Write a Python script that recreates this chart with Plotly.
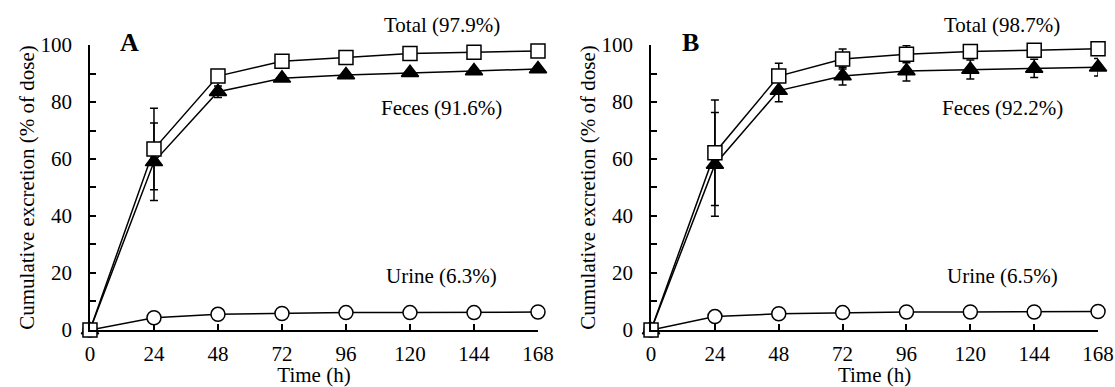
import plotly.graph_objects as go

time_h = [0, 24, 48, 72, 96, 120, 144, 168]

# Panel A
total_a = [0, 63.5, 89.1, 94.3, 95.6, 97.0, 97.5, 97.9]
total_a_err = [0, 14.3, 1.5, 1.0, 1.0, 1.0, 1.0, 1.0]
feces_a = [0, 59.0, 83.6, 88.3, 89.5, 90.3, 90.9, 91.6]
feces_a_err = [0, 13.6, 2.0, 1.0, 1.0, 1.0, 1.0, 1.0]
urine_a = [0, 4.3, 5.5, 5.8, 6.1, 6.1, 6.1, 6.3]
urine_a_err = [0, 0.8, 0.8, 0.8, 0.8, 0.8, 0.8, 0.8]

# Panel B
total_b = [0, 62.2, 89.1, 95.1, 96.8, 97.7, 98.2, 98.7]
total_b_err = [0, 18.5, 4.5, 3.5, 3.0, 2.0, 2.0, 1.5]
feces_b = [0, 58.1, 84.0, 89.1, 90.9, 91.4, 91.8, 92.2]
feces_b_err = [0, 18.2, 3.9, 3.1, 3.5, 3.3, 3.2, 3.1]
urine_b = [0, 4.7, 5.7, 6.1, 6.3, 6.3, 6.3, 6.5]
urine_b_err = [0, 1.0, 0.8, 0.8, 0.8, 0.8, 0.8, 0.8]

labels_a = ["Total (97.9%)", "Feces (91.6%)", "Urine (6.3%)"]
labels_b = ["Total (98.7%)", "Feces (92.2%)", "Urine (6.5%)"]
panel_letters = ["A", "B"]

FONT = "Liberation Serif, Times New Roman, serif"

fig = go.Figure()


def add_series(xa, ya, y, err, symbol, fill, size):
    fig.add_trace(go.Scatter(
        x=time_h, y=y, xaxis=xa, yaxis=ya, mode="lines+markers",
        line=dict(color="black", width=1.5),
        marker=dict(symbol=symbol, size=size, color=fill,
                    line=dict(color="black", width=1.5)),
        error_y=dict(type="data", array=err, visible=True, color="black",
                     thickness=1.5, width=4),
        cliponaxis=False, showlegend=False,
    ))


for xa, ya, tot, te, fec, fe, uri, ue in [
    ("x", "y", total_a, total_a_err, feces_a, feces_a_err, urine_a, urine_a_err),
    ("x2", "y2", total_b, total_b_err, feces_b, feces_b_err, urine_b, urine_b_err),
]:
    add_series(xa, ya, uri, ue, "circle", "white", 14)
    add_series(xa, ya, fec, fe, "triangle-up", "black", 15)
    add_series(xa, ya, tot, te, "square", "white", 14)

xaxis_common = dict(
    range=[0, 168], tickvals=time_h, ticks="inside", ticklen=6, tickwidth=1.5,
    tickcolor="black", showline=True, linecolor="black", linewidth=1.5,
    showgrid=False, zeroline=False, tickfont=dict(family=FONT, size=21, color="black"),
    title=dict(text="Time (h)", font=dict(family=FONT, size=21, color="black"), standoff=0),
    automargin=False, ticklabelstandoff=4,
)
yaxis_common = dict(
    range=[0, 100], tickvals=[0, 20, 40, 60, 80, 100], ticks="inside", ticklen=6,
    tickwidth=1.5, tickcolor="black", showline=True, linecolor="black", linewidth=1.5,
    showgrid=False, zeroline=False, tickfont=dict(family=FONT, size=21, color="black"),
    minor=dict(dtick=10, ticks="inside", ticklen=6, tickwidth=1.5, tickcolor="black", showgrid=False),
    title=dict(text="Cumulative excretion (% of dose)", font=dict(family=FONT, size=21, color="black"), standoff=0),
    automargin=False, ticklabelstandoff=12,
    domain=[0.1473, 0.8837],
)

fig.update_layout(
    width=1115, height=387, margin=dict(l=0, r=0, t=0, b=0),
    paper_bgcolor="white", plot_bgcolor="white",
    xaxis=dict(xaxis_common, domain=[0.0807, 0.4825], anchor="y"),
    yaxis=dict(yaxis_common, anchor="x"),
    xaxis2=dict(xaxis_common, domain=[0.5839, 0.9848], anchor="y2"),
    yaxis2=dict(yaxis_common, anchor="x2"),
)

annotations = []
for xr, yr, labels, letter in [("x", "y domain", labels_a, panel_letters[0]),
                               ("x2", "y2 domain", labels_b, panel_letters[1])]:
    for lab, ypos in zip(labels, [1.07, 0.78, 0.19]):
        annotations.append(dict(text=lab, x=132, y=ypos, xref=xr, yref=yr, showarrow=False,
                                xanchor="center", yanchor="middle",
                                font=dict(family=FONT, size=21, color="black")))
    annotations.append(dict(text="<b>" + letter + "</b>", x=14.7, y=1.01, xref=xr, yref=yr,
                            xanchor="center", yanchor="middle", showarrow=False,
                            font=dict(family=FONT, size=26, color="black")))
fig.update_layout(annotations=annotations)

fig.write_html("out.html")
